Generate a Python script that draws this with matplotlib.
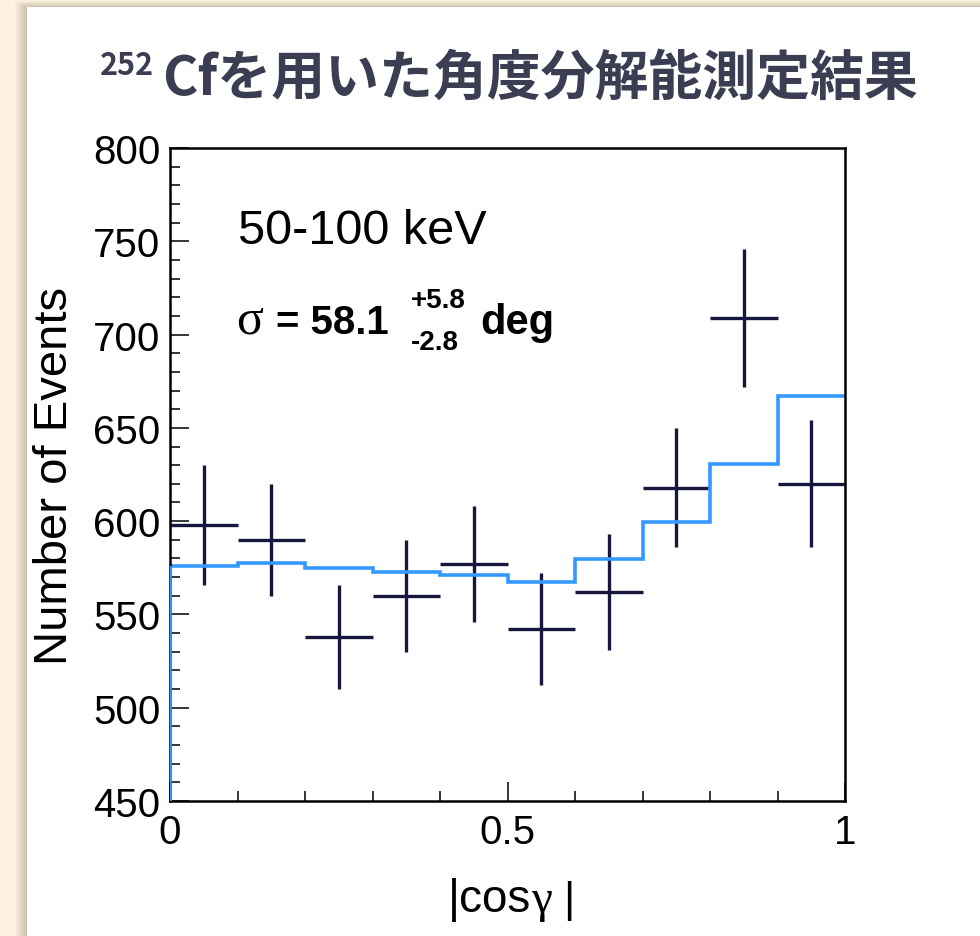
import numpy as np
import matplotlib
matplotlib.use("Agg")
import matplotlib.pyplot as plt
from matplotlib.patches import Rectangle
from matplotlib.ticker import MultipleLocator, FixedLocator

# データ (|cos γ| の各ビン)
bin_edges = [0.0, 0.1, 0.2, 0.3, 0.4, 0.5, 0.6, 0.7, 0.8, 0.9, 1.0]
bin_centers = [0.05, 0.15, 0.25, 0.35, 0.45, 0.55, 0.65, 0.75, 0.85, 0.95]
counts = [598, 590, 538, 560, 577, 542, 562, 618, 709, 620]
count_err = [32, 30, 28, 30, 31, 30, 31, 32, 37, 34]
fit_hist = [576, 577.5, 575, 573, 571, 567.5, 579.5, 599.5, 630.5, 667]

title_sup = "252"
title_main = "Cfを用いた角度分解能測定結果"
energy_label = "50-100 keV"
sigma_value = "= 58.1"
sigma_up = "+5.8"
sigma_down = "-2.8"

W, H = 980, 937
fig = plt.figure(figsize=(W / 100, H / 100), dpi=100)
fig.patch.set_facecolor("#fdf2e1")

def fx(px):
    return px / W

def fy(py):
    return 1 - py / H

# 白いパネルとぼかした影
for i in range(12):
    off = 12 - i
    fig.add_artist(Rectangle((fx(27 - off), 0), 1, fy(8 - off * 0.5), transform=fig.transFigure,
                             facecolor="#8a7d66", edgecolor="none", alpha=0.035, zorder=-2))
fig.add_artist(Rectangle((fx(27), 0), 1, fy(8), transform=fig.transFigure,
                         facecolor="white", edgecolor="none", zorder=-1))

ax = fig.add_axes([fx(170), 1 - 802 / H, fx(845) - fx(170), (802 - 149) / H])
ax.set_facecolor("none")

navy = "#16163e"
blue = "#3399ff"

ax.stairs(fit_hist, bin_edges, baseline=None, color=blue, lw=2.6, zorder=3.5)
# 左端の立ち上がり (ROOT のヒストグラム描画)
ax.plot([bin_edges[0], bin_edges[0]], [450, fit_hist[0]], color=blue, lw=2.6, zorder=5,
        solid_capstyle="butt")
ax.errorbar(bin_centers, counts, xerr=0.05, yerr=count_err, fmt="none",
            ecolor=navy, elinewidth=2.4, capsize=0, zorder=3)

ax.set_xlim(0, 1)
ax.set_ylim(450, 800)
ax.xaxis.set_major_locator(FixedLocator([0, 0.5, 1]))
ax.xaxis.set_minor_locator(MultipleLocator(0.1))
ax.yaxis.set_major_locator(MultipleLocator(50))
ax.yaxis.set_minor_locator(MultipleLocator(10))
ax.set_xticklabels(["0", "0.5", "1"])

for s in ax.spines.values():
    s.set_linewidth(1.8)
    s.set_zorder(4)

ax.tick_params(which="both", direction="in", top=False, right=False, width=1.1)
ax.tick_params(which="major", length=14)
ax.tick_params(which="minor", length=7)
ax.tick_params(axis="y", pad=7)
ax.tick_params(axis="x", pad=9)
for lab in ax.get_xticklabels() + ax.get_yticklabels():
    lab.set_fontfamily("Liberation Sans")
    lab.set_fontsize(29)

ax.set_ylabel("Number of Events", fontfamily="Liberation Sans", fontsize=34)
ax.yaxis.set_label_coords(-(170 - 55) / (845 - 170), 0.5)
ax.yaxis.label.set_verticalalignment("center")

renderer = fig.canvas.get_renderer()

def text_run(x_px, base_px, pieces):
    # pieces: (文字列, フォント, サイズ, 太さ)
    x = x_px
    for s, fam, size, weight in pieces:
        t = fig.text(fx(x), fy(base_px), s, fontfamily=fam, fontsize=size,
                     fontweight=weight, va="baseline", ha="left")
        x += t.get_window_extent(renderer).width

# x 軸ラベル |cosγ|
text_run(448, 912, [("|cos", "Liberation Sans", 33, "normal"),
                    ("γ", "Liberation Serif", 34, "normal"),
                    (" |", "Liberation Sans", 31, "normal")])

# タイトル
title_col = "#3b3d52"
fig.text(fx(100), fy(75), title_sup, fontfamily="Noto Sans CJK JP", fontweight="bold",
         fontsize=22, color=title_col, va="baseline", ha="left")
fig.text(fx(162), fy(95), title_main, fontfamily="Noto Sans CJK JP", fontweight="bold",
         fontsize=38.8, color=title_col, va="baseline", ha="left")

# 注釈
fig.text(fx(238), fy(244), energy_label, fontfamily="Liberation Sans", fontsize=35,
         va="baseline", ha="left")
fig.text(fx(236), fy(334), "σ", fontfamily="Liberation Serif", fontsize=36,
         va="baseline", ha="left")
fig.text(fx(276), fy(334), sigma_value, fontfamily="Liberation Sans", fontweight="bold",
         fontsize=29, va="baseline", ha="left")
fig.text(fx(411), fy(308), sigma_up, fontfamily="Liberation Sans", fontweight="bold",
         fontsize=20, va="baseline", ha="left")
fig.text(fx(411), fy(350), sigma_down, fontfamily="Liberation Sans", fontweight="bold",
         fontsize=20, va="baseline", ha="left")
fig.text(fx(480), fy(334), "deg", fontfamily="Liberation Sans", fontweight="bold",
         fontsize=30, va="baseline", ha="left")

fig.savefig("out.png", dpi=100, facecolor=fig.get_facecolor())
